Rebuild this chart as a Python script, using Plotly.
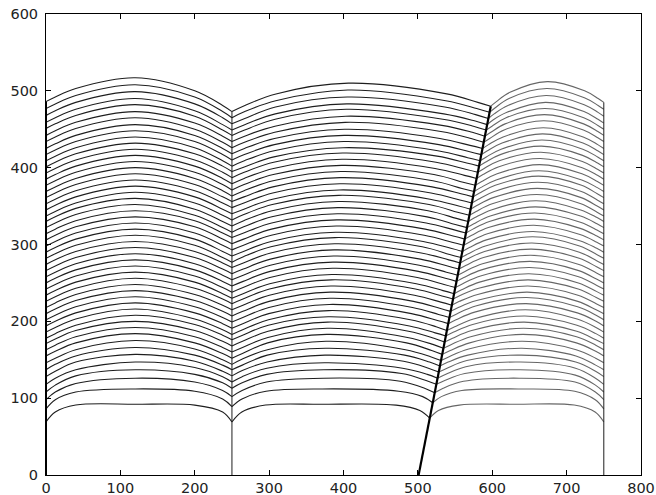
import numpy as np
import plotly.graph_objects as go

# ---- boundary values (y where each of the 50 grid lines meets a boundary) ----
B0 = [69, 86, 98, 108, 118, 128, 137, 146, 155, 163, 171, 178, 186, 194, 202, 210, 218, 226, 234, 242,
      250, 258, 266, 274, 282, 290, 298, 306, 314, 322, 330, 337, 345, 353, 361, 369, 377, 385, 393, 401,
      409, 417, 425, 434, 442, 451, 459, 468, 477, 486]
B1 = [69, 89, 102, 113, 121, 129, 137, 144, 152, 160, 168, 176, 183, 191, 199, 207, 215, 223, 230, 238,
      246, 254, 262, 270, 277, 285, 293, 301, 309, 316, 324, 332, 340, 348, 356, 363, 371, 379, 387, 395,
      402, 410, 418, 426, 434, 442, 449, 457, 465, 473]
B2 = [74, 94, 107, 118, 126, 134, 142, 149, 157, 165, 173, 181, 188, 197, 205, 213, 221, 229, 236, 244,
      252, 260, 268, 276, 283, 291, 299, 307, 315, 322, 330, 338, 346, 354, 362, 369, 377, 386, 394, 402,
      409, 417, 425, 433, 441, 449, 456, 464, 472, 480]
B3 = [69, 86, 98, 108, 118, 128, 137, 146, 155, 163, 171, 178, 186, 194, 202, 210, 218, 226, 234, 242,
      250, 258, 266, 274, 282, 290, 298, 306, 314, 322, 330, 337, 345, 353, 361, 369, 377, 385, 393, 401,
      409, 417, 425, 434, 442, 450, 458, 467, 476, 485]

# ---- section 1 (x 0..250) ----
E1L = [82, 98, 108, 117, 126, 135, 144, 152, 161, 169, 177, 184, 192, 200, 208, 216, 224, 232, 240, 248,
       256, 264, 272, 280, 288, 296, 304, 312, 320, 328, 336, 343, 351, 359, 367, 375, 383, 391, 399, 407,
       415, 423, 431, 440, 448, 457, 465, 474, 483, 492]
S1A = [91, 108, 119, 129, 137, 147, 155, 163, 172, 180, 188, 195, 203, 211, 219, 227, 235, 243, 251, 259,
       267, 275, 283, 291, 299, 307, 315, 323, 331, 339, 347, 354, 362, 370, 378, 386, 394, 402, 410, 418,
       426, 434, 442, 451, 459, 468, 476, 485, 494, 503]
P1 = [92, 112, 126, 137, 147, 157, 166, 175, 184, 192, 200, 208, 216, 224, 232, 240, 248, 256, 264, 272,
      280, 288, 296, 304, 312, 320, 328, 336, 344, 352, 360, 368, 376, 384, 392, 400, 408, 416, 424, 432,
      440, 448, 456, 465, 473, 482, 490, 499, 508, 517]
S1B = [91, 109, 121, 131, 140, 148, 156, 164, 172, 180, 188, 196, 203, 211, 219, 227, 235, 243, 251, 259,
       267, 275, 283, 291, 299, 307, 315, 323, 331, 338, 346, 354, 362, 370, 378, 386, 394, 402, 410, 418,
       426, 434, 442, 450, 458, 467, 474, 483, 492, 500]
E1R = [82, 99, 110, 120, 128, 135, 143, 150, 158, 166, 174, 182, 189, 197, 205, 213, 221, 229, 236, 244,
       252, 260, 268, 276, 283, 291, 299, 307, 315, 322, 330, 338, 346, 354, 362, 370, 378, 386, 394, 402,
       409, 417, 425, 433, 441, 449, 456, 465, 473, 481]

# ---- section 2 (x 250..slant) ----
E2L = [82, 99, 110, 120, 128, 136, 143, 151, 158, 166, 174, 182, 189, 197, 205, 213, 221, 229, 236, 244,
       252, 260, 268, 276, 284, 291, 299, 307, 315, 323, 331, 339, 346, 354, 362, 370, 378, 386, 394, 401,
       409, 417, 425, 433, 441, 449, 456, 464, 473, 481]
S2A = [91, 109, 121, 131, 139, 147, 156, 163, 172, 179, 187, 195, 202, 210, 218, 226, 234, 242, 249, 257,
       265, 273, 281, 289, 297, 304, 312, 320, 328, 336, 344, 352, 359, 367, 375, 383, 391, 399, 407, 414,
       422, 430, 438, 446, 454, 463, 470, 479, 487, 496]
P2 = [92, 112, 126, 137, 146, 156, 165, 174, 183, 191, 199, 206, 214, 222, 230, 238, 246, 254, 261, 269,
      277, 285, 293, 301, 309, 316, 324, 332, 340, 348, 356, 364, 371, 379, 387, 395, 403, 411, 419, 426,
      434, 442, 450, 459, 467, 476, 483, 492, 501, 510]
S2B = [91, 109, 122, 132, 139, 148, 156, 163, 172, 179, 187, 194, 202, 210, 218, 226, 234, 242, 249, 257,
       265, 273, 281, 289, 297, 304, 312, 320, 328, 336, 344, 352, 359, 367, 375, 383, 391, 399, 407, 415,
       422, 430, 438, 447, 455, 463, 470, 479, 487, 496]
E2R = [84, 102, 113, 123, 131, 139, 147, 154, 162, 170, 178, 185, 193, 201, 209, 217, 225, 233, 240, 248,
       256, 264, 272, 280, 287, 295, 303, 311, 319, 326, 334, 342, 350, 358, 366, 373, 381, 390, 398, 406,
       413, 421, 429, 438, 446, 454, 461, 469, 477, 485]

# ---- section 3 (x slant..750) ----
E3L = [84, 102, 113, 123, 131, 139, 147, 154, 162, 170, 178, 186, 193, 202, 210, 218, 226, 234, 241, 249,
       257, 265, 273, 281, 288, 296, 304, 312, 320, 327, 335, 343, 351, 359, 367, 374, 382, 391, 399, 407,
       414, 422, 430, 438, 446, 454, 462, 470, 478, 486]
S3A = [91, 110, 122, 132, 141, 149, 156, 164, 172, 180, 188, 196, 203, 212, 220, 227, 235, 243, 251, 259,
       267, 275, 283, 291, 298, 306, 314, 322, 330, 337, 345, 353, 361, 369, 377, 384, 392, 401, 409, 417,
       424, 432, 440, 449, 457, 465, 472, 481, 490, 498]
P3 = [92, 112, 126, 137, 147, 156, 165, 174, 183, 191, 199, 207, 215, 223, 231, 238, 246, 254, 262, 270,
      278, 286, 294, 302, 310, 317, 325, 333, 341, 349, 357, 365, 373, 381, 389, 396, 404, 412, 420, 428,
      436, 444, 452, 461, 469, 477, 485, 494, 503, 512]
S3B = [91, 109, 121, 130, 139, 147, 155, 163, 172, 180, 187, 195, 203, 211, 219, 226, 234, 242, 250, 258,
       266, 274, 282, 290, 298, 305, 313, 321, 329, 337, 345, 353, 361, 369, 377, 384, 392, 400, 408, 416,
       424, 432, 440, 449, 457, 465, 473, 482, 491, 500]
E3R = [82, 98, 108, 117, 126, 135, 143, 152, 161, 169, 176, 184, 192, 200, 208, 215, 223, 231, 239, 247,
       255, 263, 271, 279, 287, 295, 303, 311, 319, 327, 335, 342, 350, 358, 366, 374, 382, 390, 398, 406,
       414, 422, 430, 439, 447, 455, 463, 472, 481, 490]

# boundary positions
X_LEFT, X_MID, X_RIGHT = 0, 250, 750
SLANT_X = [501, 598]
SLANT_Y = [0, 480]

# relative positions of the 7 sample points along each grid line
T1 = [0, 0.05, 0.16, 0.48, 0.80, 0.95, 1]
T2 = [0, 0.05, 0.17, 0.45, 0.83, 0.95, 1]
T3 = [0, 0.05, 0.17, 0.50, 0.83, 0.95, 1]

X_TICKS = [0, 100, 200, 300, 400, 500, 600, 700, 800]
Y_TICKS = [0, 100, 200, 300, 400, 500, 600]

DARK = "#1e1e1e"
GREY = "#666666"


def slant_x(y):
    return float(np.interp(y, SLANT_Y, SLANT_X))


fig = go.Figure()


def add_line(xl, xr, ts, ys, color):
    xs = [xl + t * (xr - xl) for t in ts]
    fig.add_trace(go.Scatter(x=xs, y=ys, mode="lines",
                             line=dict(color=color, width=1.1, shape="spline", smoothing=1),
                             hoverinfo="skip", showlegend=False))


n = len(P1)
for i in range(n):
    add_line(X_LEFT, X_MID, T1, [B0[i], E1L[i], S1A[i], P1[i], S1B[i], E1R[i], B1[i]], DARK)
    add_line(X_MID, slant_x(B2[i]), T2, [B1[i], E2L[i], S2A[i], P2[i], S2B[i], E2R[i], B2[i]], DARK)
    add_line(slant_x(B2[i]), X_RIGHT, T3, [B2[i], E3L[i], S3A[i], P3[i], S3B[i], E3R[i], B3[i]], GREY)

# boundary lines
fig.add_trace(go.Scatter(x=[X_LEFT, X_LEFT], y=[0, B0[-1]], mode="lines",
                         line=dict(color="black", width=2), hoverinfo="skip", showlegend=False))
fig.add_trace(go.Scatter(x=[X_MID, X_MID], y=[0, B1[-1]], mode="lines",
                         line=dict(color=DARK, width=1), hoverinfo="skip", showlegend=False))
fig.add_trace(go.Scatter(x=[SLANT_X[0], slant_x(B2[-1])], y=[0, B2[-1]], mode="lines",
                         line=dict(color="black", width=2.2), hoverinfo="skip", showlegend=False))
fig.add_trace(go.Scatter(x=[X_RIGHT, X_RIGHT], y=[0, B3[-1]], mode="lines",
                         line=dict(color=DARK, width=1), hoverinfo="skip", showlegend=False))

axis_common = dict(showgrid=False, zeroline=False, showline=True, linecolor="black", linewidth=1,
                   mirror="ticks", ticks="inside", ticklen=5, tickcolor="black", automargin=False,
                   ticklabeloverflow="allow",
                   tickfont=dict(family="DejaVu Sans", size=14.5, color="#222"))

fig.update_layout(
    width=656, height=495,
    margin=dict(l=46, r=15, t=14, b=20),
    paper_bgcolor="white", plot_bgcolor="white",
    xaxis=dict(range=[0, 800], tickvals=X_TICKS, ticklabelstandoff=0, **axis_common),
    yaxis=dict(range=[0, 600], tickvals=Y_TICKS, ticklabelstandoff=4, **axis_common),
)

# remove the default 8px page margin so the figure sits at the window's top-left corner
fig.write_html("out.html",
               config={"displayModeBar": False},
               post_script="document.body.style.margin='0';document.body.style.overflow='hidden';")
